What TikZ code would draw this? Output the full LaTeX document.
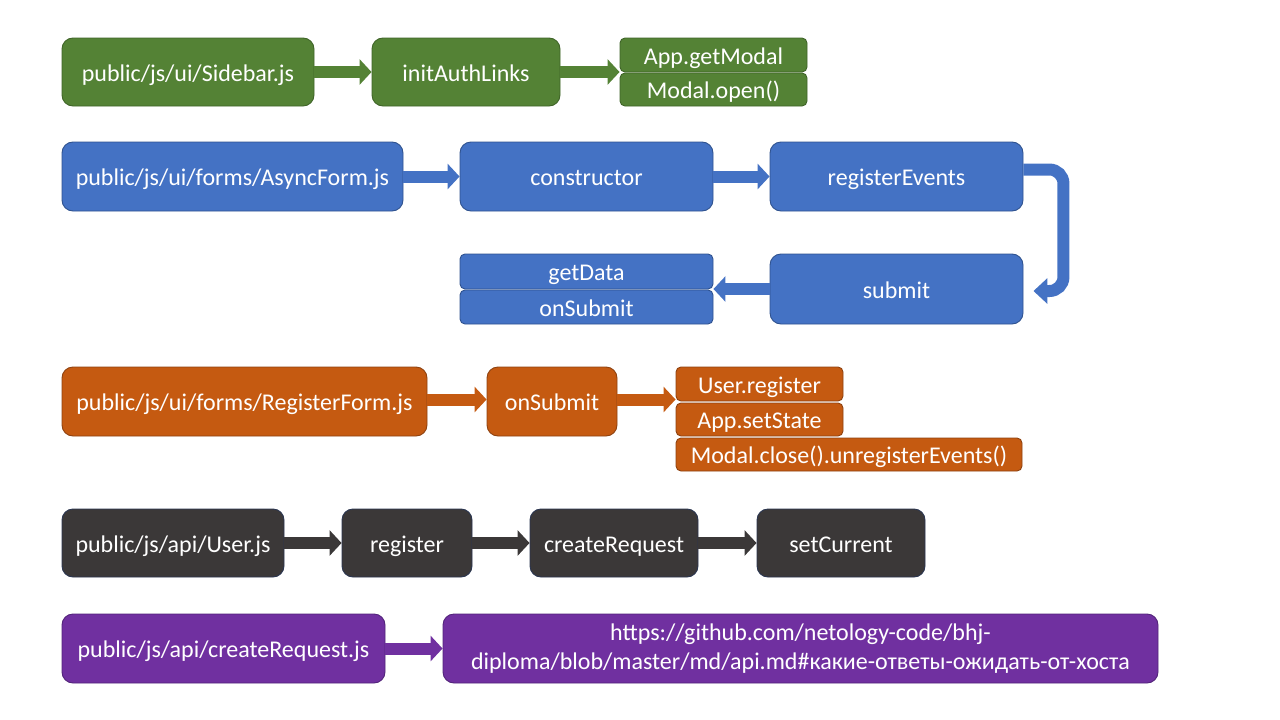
\documentclass[tikz,border=0pt]{standalone}
\usepackage{fontspec}
\setmainfont{Carlito}
\usetikzlibrary{arrows.meta}
\definecolor{cgreen}{HTML}{548235}
\definecolor{cgreenb}{HTML}{3F6428}
\definecolor{cblue}{HTML}{4472C4}
\definecolor{cblueb}{HTML}{2F528F}
\definecolor{corange}{HTML}{C55A11}
\definecolor{corangeb}{HTML}{8E4210}
\definecolor{cdark}{HTML}{3B3838}
\definecolor{cdarkb}{HTML}{2A3550}
\definecolor{cpurple}{HTML}{7030A0}
\definecolor{cpurpleb}{HTML}{52247A}
\newcommand{\boxstrut}{\rule[-4.5pt]{0pt}{27pt}}
\tikzset{
  box/.style={rectangle, rounded corners=11pt, inner sep=0pt, line width=0.9pt,
    text=white, font=\fontsize{24pt}{29pt}\selectfont, align=center,
    execute at begin node=\boxstrut, execute at end node=\boxstrut},
  sbox/.style={box, rounded corners=5pt},
  gbox/.style={fill=cgreen, draw=cgreenb},
  bbox/.style={fill=cblue, draw=cblueb},
  obox/.style={fill=corange, draw=corangeb},
  dbox/.style={fill=cdark, draw=cdarkb},
  pbox/.style={fill=cpurple, draw=cpurpleb},
  barrow/.style={line width=12pt, -{Triangle[length=12pt,width=25pt]}},
}
\begin{document}
\begin{tikzpicture}[x=1pt,y=-1pt]
\useasboundingbox (0,0) rectangle (1280,720);
% green row
\node[box,gbox,minimum width=252pt,minimum height=68pt] (sb) at (188,72) {public/js/ui/Sidebar.js};
\node[box,gbox,minimum width=188pt,minimum height=68pt] (ial) at (466,72) {initAuthLinks};
\node[sbox,gbox,minimum width=187pt,minimum height=34pt] (gm) at (713.5,55) {App.getModal};
\node[sbox,gbox,minimum width=187pt,minimum height=33pt] (mo) at (713.5,89.5) {Modal.open()};
\draw[barrow,cgreen] (sb.east) -- (ial.west);
\draw[barrow,cgreen] (ial.east) -- (ial.east -| gm.west);
% blue row
\node[box,bbox,minimum width=341pt,minimum height=69pt] (af) at (232.5,176.5) {public/js/ui/forms/AsyncForm.js};
\node[box,bbox,minimum width=253pt,minimum height=69pt] (co) at (586.5,176.5) {constructor};
\node[box,bbox,minimum width=253pt,minimum height=69pt] (re) at (896.5,176.5) {registerEvents};
\node[box,bbox,minimum width=253pt,minimum height=70pt] (su) at (896.5,289) {submit};
\node[sbox,bbox,minimum width=253pt,minimum height=35pt] (gd) at (586.5,271.5) {getData};
\node[sbox,bbox,minimum width=253pt,minimum height=34pt] (os) at (586.5,307) {onSubmit};
\draw[barrow,cblue] (af.east) -- (co.west);
\draw[barrow,cblue] (co.east) -- (re.west);
\draw[barrow,cblue] (su.west) -- (su.west -| gd.east);
\draw[line width=12pt,cblue,rounded corners=14pt,-{Triangle[length=14pt,width=25pt]}]
  ([yshift=7pt]re.east) -- ([xshift=40pt,yshift=7pt]re.east) |- ([xshift=10pt,yshift=-2pt]su.east);
% orange row
\node[box,obox,minimum width=365pt,minimum height=69pt] (rf) at (244.5,401.5) {public/js/ui/forms/RegisterForm.js};
\node[box,obox,minimum width=130pt,minimum height=69pt] (on) at (552,401.5) {onSubmit};
\node[sbox,obox,minimum width=167pt,minimum height=34pt] (ur) at (759.5,384) {User.register};
\node[sbox,obox,minimum width=167pt,minimum height=33pt] (as) at (759.5,419.5) {App.setState};
\node[sbox,obox,minimum width=346pt,minimum height=33pt] (mc) at (849,454.5) {Modal.close().unregisterEvents()};
\draw[barrow,corange] ([yshift=2pt]rf.east) -- ([yshift=2pt]on.west);
\draw[barrow,corange] ([yshift=2pt]on.east) -- ([yshift=2pt]on.east -| ur.west);
% dark row
\node[box,dbox,minimum width=222pt,minimum height=68pt] (uj) at (173,543) {public/js/api/User.js};
\node[box,dbox,minimum width=130pt,minimum height=68pt] (rg) at (407,543) {register};
\node[box,dbox,minimum width=168pt,minimum height=68pt] (cr) at (614,543) {createRequest};
\node[box,dbox,minimum width=168pt,minimum height=68pt] (sc) at (841,543) {setCurrent};
\draw[barrow,cdark] (uj.east) -- (rg.west);
\draw[barrow,cdark] (rg.east) -- (cr.west);
\draw[barrow,cdark] (cr.east) -- (sc.west);
% purple row
\node[box,pbox,minimum width=323pt,minimum height=69pt] (cj) at (223.5,648.5) {public/js/api/createRequest.js};
\node[box,pbox,minimum width=715pt,minimum height=69pt] (url) at (800.5,648.5) {https://github.com/netology-code/bhj-\\diploma/blob/master/md/api.md\#какие-ответы-ожидать-от-хоста};
\draw[barrow,cpurple] (cj.east) -- (url.west);
\end{tikzpicture}
\end{document}
